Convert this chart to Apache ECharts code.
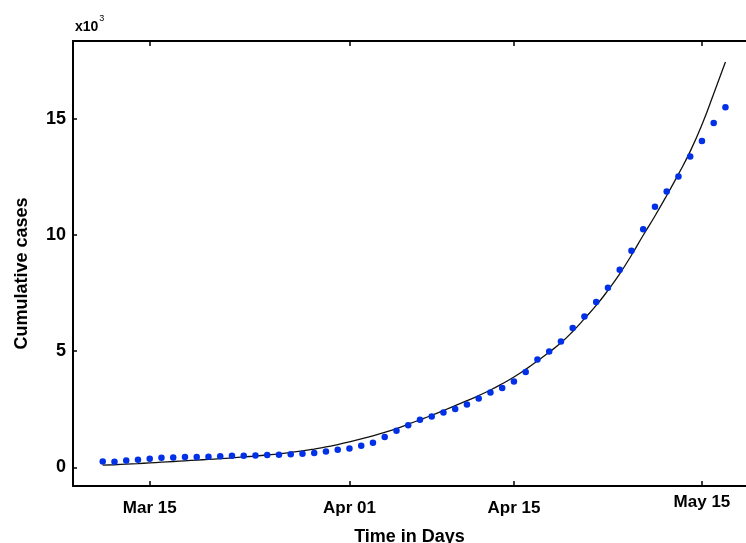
<!DOCTYPE html>
<html>
<head>
<meta charset="utf-8">
<script src="https://cdn.jsdelivr.net/npm/echarts@6/dist/echarts.min.js"></script>
<style>html,body{margin:0;padding:0;background:#fff;}#c{width:746px;height:543px;}</style>
</head>
<body>
<div id="c"></div>
<script>
// Day index (0 = Mar 11)
const days = [0,1,2,3,4,5,6,7,8,9,10,11,12,13,14,15,16,17,18,19,20,21,22,23,24,25,26,27,28,29,30,31,32,33,34,35,36,37,38,39,40,41,42,43,44,45,46,47,48,49,50,51,52,53];
// Observed cumulative cases (dots)
const observed = [250,245,300,330,375,415,430,445,450,460,475,500,505,515,533,546,565,590,620,688,761,817,933,1062,1308,1578,1815,2052,2194,2366,2512,2710,2968,3226,3415,3699,4103,4640,4989,5419,5996,6495,7114,7729,8503,9320,10254,11213,11871,12516,13376,14051,14826,15501];
// Fitted curve (line)
const fitted = [95,115,140,165,195,225,255,285,315,345,375,410,450,490,535,585,645,710,790,880,985,1100,1225,1360,1505,1670,1860,2050,2245,2450,2660,2870,3090,3330,3600,3890,4220,4580,4960,5360,5850,6400,6970,7620,8330,9130,9990,10820,11700,12620,13600,14750,16080,17450];
// Tick positions and labels
const xTickDays = [4,21,35,51];
const xTickLabels = ['Mar 15','Apr 01','Apr 15','May 15'];
const yTicks = [0,5000,10000,15000];

const font = '"Liberation Sans", Arial, Helvetica, sans-serif';
const chart = echarts.init(document.getElementById('c'));
const obsData = days.map((d,i)=>[d, observed[i]]);
const fitData = days.map((d,i)=>[d, fitted[i]]);
const axisLineStyle = {color:'#000', width:2};

chart.setOption({
  animation:false,
  backgroundColor:'#fff',
  grid:{left:73, right:0, top:41, bottom:57, containLabel:false, outerBoundsMode:'none'},
  xAxis:[{
    type:'value', position:'bottom', min:-2.53, max:54.75,
    name:'Time in Days', nameLocation:'middle', nameGap:42,
    nameTextStyle:{fontFamily:font, fontWeight:'bold', fontSize:18, color:'#000'},
    axisLine:{show:true, onZero:false, lineStyle:axisLineStyle},
    axisTick:{show:true, inside:true, length:5, customValues:xTickDays, lineStyle:{color:'#000', width:1.5}},
    axisLabel:{show:true, margin:8, customValues:xTickDays,
      formatter:function(v){const i=xTickDays.indexOf(v); if(i<0) return ''; return i===3?'{m|'+xTickLabels[i]+'}':'{n|'+xTickLabels[i]+'}';},
      rich:{
        n:{fontFamily:font, fontWeight:'bold', fontSize:17, color:'#000', padding:[6,0,0,0]},
        m:{fontFamily:font, fontWeight:'bold', fontSize:17, color:'#000', padding:[0,0,0,0]}
      }},
    splitLine:{show:false}
  },{
    type:'value', position:'top', min:-2.53, max:54.75,
    axisLine:{show:true, onZero:false, lineStyle:axisLineStyle},
    axisTick:{show:true, inside:true, length:5, customValues:xTickDays, lineStyle:{color:'#000', width:1.5}},
    axisLabel:{show:false},
    splitLine:{show:false}
  }],
  yAxis:{
    type:'value', min:-800, max:18350,
    name:'Cumulative cases', nameLocation:'middle', nameGap:42,
    nameTextStyle:{fontFamily:font, fontWeight:'bold', fontSize:18, color:'#000', padding:[0,20,0,0]},
    axisLine:{show:true, onZero:false, lineStyle:axisLineStyle},
    axisTick:{show:true, inside:true, length:4, customValues:yTicks, lineStyle:{color:'#000', width:1.5}},
    axisLabel:{show:true, margin:7, customValues:yTicks, formatter:function(v){return String(v/1000);},
      fontFamily:font, fontWeight:'bold', fontSize:18, color:'#000'},
    splitLine:{show:false}
  },
  graphic:[{
    type:'text', left:75, top:14,
    style:{text:'{a|x10}{b|3}', rich:{
      a:{fontFamily:font, fontWeight:'bold', fontSize:14, fill:'#000', verticalAlign:'bottom', lineHeight:20},
      b:{fontFamily:font, fontSize:9, fill:'#000', verticalAlign:'top', lineHeight:20, padding:[0,0,0,1]}
    }}
  }],
  series:[{
    type:'line', data:fitData, smooth:true, showSymbol:false, symbol:'none',
    lineStyle:{color:'#111', width:1.3}, z:2
  },{
    type:'scatter', data:obsData, symbol:'circle', symbolSize:6.5,
    itemStyle:{color:'#0030e8', opacity:1}, z:3
  }]
});
</script>
</body>
</html>
